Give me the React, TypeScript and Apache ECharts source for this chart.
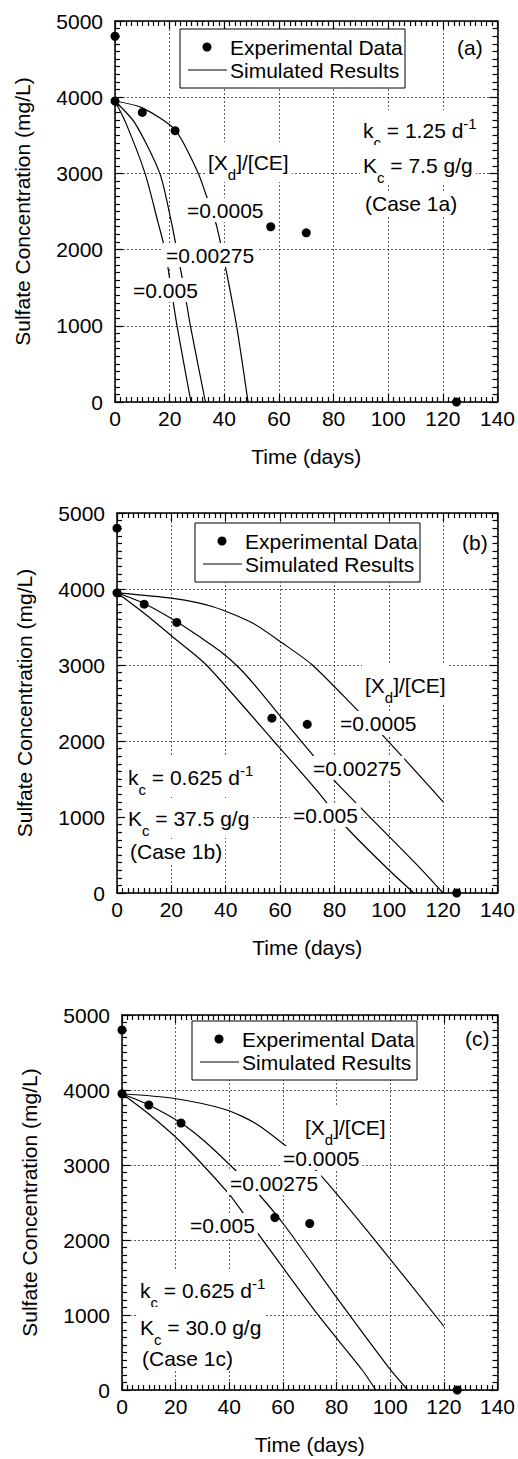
import React, { useEffect, useRef } from "react";
import * as echarts from "echarts";

// ---------------- data ----------------
const expDays = [0, 0, 10, 22, 57, 70, 125];
const expSulfate = [4800, 3950, 3800, 3560, 2300, 2220, 0];

// Case 1a  (kc = 1.25, Kc = 7.5)
const caseA_0005: number[][] = [[0, 3950], [10, 3860], [22, 3570], [30.5, 3000], [33.5, 2700], [36.9, 2350], [40, 1850], [44.5, 1000], [48.7, 0]];
const caseA_00275: number[][] = [[0, 3950], [7.3, 3660], [16.4, 3000], [20.7, 2350], [22.6, 2000], [25, 1550], [27.6, 1000], [33.1, 0]];
const caseA_005: number[][] = [[0, 3950], [4, 3660], [11, 3000], [15.8, 2350], [18.3, 2000], [20.3, 1550], [22.7, 1000], [27.8, 0]];

// Case 1b  (kc = 0.625, Kc = 37.5)
const caseB_0005: number[][] = [[0, 3950], [20.6, 3877], [35.3, 3767], [50, 3549], [61, 3285], [71.9, 3000], [89, 2386], [98.8, 2035], [120, 1200]];
const caseB_00275: number[][] = [[0, 3950], [10, 3810], [22, 3570], [30, 3380], [38, 3180], [45, 2960], [52, 2680], [60, 2330], [72, 1816], [80.5, 1460], [111.6, 325], [120, 0]];
const caseB_005: number[][] = [[0, 3950], [10, 3680], [21.9, 3329], [32.9, 3000], [57.3, 2013], [74.4, 1312], [84.2, 872], [99.4, 325], [109.2, 0]];

// Case 1c  (kc = 0.625, Kc = 30.0)
const caseC_0005: number[][] = [[0, 3950], [19, 3890], [38.5, 3740], [50, 3550], [63, 3200], [73.4, 2888], [93.6, 2028], [120, 850]];
const caseC_00275: number[][] = [[0, 3950], [10, 3800], [22, 3560], [31, 3310], [42, 2940], [50, 2650], [60.5, 2200], [80, 1234], [99.7, 287], [106.5, 0]];
const caseC_005: number[][] = [[0, 3950], [10, 3680], [21.9, 3307], [39.7, 2623], [45.2, 2358], [50.1, 2116], [72.8, 1014], [89.5, 270], [94.6, 0]];

const ratioLabels = ["=0.0005", "=0.00275", "=0.005"];
const panelTags = ["(a)", "(b)", "(c)"];
const kcLabels = ["1.25", "0.625", "0.625"];
const KcLabels = ["7.5", "37.5", "30.0"];
const caseLabels = ["(Case 1a)", "(Case 1b)", "(Case 1c)"];

const xMin = 0, xMax = 140, xStep = 20;
const yMin = 0, yMax = 5000, yStep = 1000;

// ---------------- layout ----------------
const FONT = "'Liberation Sans', Arial, Helvetica, sans-serif";
const grids = [
  { left: 115, top: 21, width: 383, height: 381 },
  { left: 117, top: 513, width: 382, height: 380 },
  { left: 122, top: 1015, width: 381, height: 375 },
];
const legendPos = [
  { x: 180, y: 29 },
  { x: 195, y: 523 },
  { x: 192, y: 1021 },
];
// label positions: [left, centerY]
const ann = [
  {
    tag: [457, 47], xd: [208, 162], r: [[187, 210], [166, 255], [133, 290]],
    kc: [363, 130], Kc: [363, 165], cs: [365, 203],
  },
  {
    tag: [462, 542], xd: [365, 685], r: [[340, 723], [313, 768], [293, 815]],
    kc: [128, 777], Kc: [128, 818], cs: [130, 851],
  },
  {
    tag: [465, 1038], xd: [305, 1127], r: [[283, 1158], [230, 1183], [190, 1225]],
    kc: [140, 1290], Kc: [140, 1327], cs: [142, 1358],
  },
];

const curves = [
  [caseA_0005, caseA_00275, caseA_005],
  [caseB_0005, caseB_00275, caseB_005],
  [caseC_0005, caseC_00275, caseC_005],
];

const rich = {
  sub: { fontSize: 15, lineHeight: 15, verticalAlign: "bottom", fontFamily: FONT, fill: "#000" },
  sup: { fontSize: 15, verticalAlign: "middle", padding: [0, 0, 14, 0], fontFamily: FONT, fill: "#000" },
};

function txt(x: number, y: number, text: string, withRich = false, bg = true) {
  return {
    type: "text",
    x: x - 3,
    y,
    z: 100,
    style: {
      text,
      fill: "#000",
      fontSize: 21,
      fontFamily: FONT,
      align: "left",
      verticalAlign: "middle",
      lineHeight: withRich ? 40 : 24,
      backgroundColor: bg ? "#fff" : undefined,
      padding: [0, 3],
      rich: withRich ? rich : undefined,
    },
  };
}

const mkLine = () => ({ show: true, onZero: false, lineStyle: { color: "#000", width: 1.5 } });
const mkTick = () => ({ show: true, inside: true, length: 8, lineStyle: { color: "#000", width: 1.2 } });
const mkMinor = () => ({ show: true, splitNumber: 10, length: 5, lineStyle: { color: "#000", width: 1.2 } });
const mkSplit = () => ({ show: true, lineStyle: { color: "#333", width: 0.8, type: [2, 2] } });

function buildOption() {
  const xAxis: any[] = [];
  const yAxis: any[] = [];
  const series: any[] = [];
  const graphic: any[] = [];
  const plain = (v: number) => String(v);

  grids.forEach((g, i) => {
    xAxis.push({
      type: "value", gridIndex: i, position: "bottom", min: xMin, max: xMax, interval: xStep,
      name: "Time (days)", nameLocation: "middle", nameGap: 44,
      nameTextStyle: { fontSize: 21, color: "#000", fontFamily: FONT },
      axisLine: mkLine(), axisTick: mkTick(), minorTick: mkMinor(), splitLine: mkSplit(),
      axisLabel: { fontSize: 21, color: "#000", fontFamily: FONT, margin: 6, formatter: plain },
    });
    xAxis.push({
      type: "value", gridIndex: i, position: "top", min: xMin, max: xMax, interval: xStep,
      axisLine: mkLine(), axisTick: mkTick(), minorTick: mkMinor(), splitLine: { show: false }, axisLabel: { show: false },
    });
    yAxis.push({
      type: "value", gridIndex: i, position: "left", min: yMin, max: yMax, interval: yStep,
      name: "Sulfate Concentration (mg/L)", nameLocation: "middle", nameGap: 82,
      nameTextStyle: { fontSize: 21, color: "#000", fontFamily: FONT },
      axisLine: mkLine(), axisTick: mkTick(), minorTick: mkMinor(), splitLine: mkSplit(),
      axisLabel: { fontSize: 21, color: "#000", fontFamily: FONT, margin: 12, formatter: plain },
    });
    yAxis.push({
      type: "value", gridIndex: i, position: "right", min: yMin, max: yMax, interval: yStep,
      axisLine: mkLine(), axisTick: mkTick(), minorTick: mkMinor(), splitLine: { show: false }, axisLabel: { show: false },
    });

    series.push({
      type: "scatter", name: "Experimental Data", xAxisIndex: 2 * i, yAxisIndex: 2 * i,
      data: expDays.map((d, k) => [d, expSulfate[k]]),
      symbol: "circle", symbolSize: 9, itemStyle: { color: "#000", opacity: 1 }, clip: false, z: 5,
    });
    curves[i].forEach((c, k) => {
      series.push({
        type: "line", name: "Simulated Results " + ratioLabels[k], xAxisIndex: 2 * i, yAxisIndex: 2 * i,
        data: c, showSymbol: false, smooth: 0.25,
        lineStyle: { color: "#000", width: 1.2 }, z: 3,
      });
    });

    // legend box
    const L = legendPos[i];
    graphic.push({
      type: "rect", z: 90, shape: { x: L.x, y: L.y, width: 225, height: 59 },
      style: { fill: "#fff", stroke: "#000", lineWidth: 1 },
    });
    graphic.push({ type: "circle", z: 95, shape: { cx: L.x + 27, cy: L.y + 18, r: 4.5 }, style: { fill: "#000" } });
    graphic.push({
      type: "line", z: 95, shape: { x1: L.x + 8, y1: L.y + 41, x2: L.x + 47, y2: L.y + 41 },
      style: { stroke: "#000", lineWidth: 1 },
    });
    graphic.push(txt(L.x + 50, L.y + 18, "Experimental Data", false, false));
    graphic.push(txt(L.x + 50, L.y + 41, "Simulated Results", false, false));

    const A = ann[i];
    graphic.push(txt(A.tag[0], A.tag[1], panelTags[i], false, false));
    graphic.push(txt(A.xd[0], A.xd[1], "[X{sub|d}]/[CE]", true));
    A.r.forEach((p, k) => graphic.push(txt(p[0], p[1], ratioLabels[k])));
    graphic.push(txt(A.kc[0], A.kc[1], "k{sub|c} = " + kcLabels[i] + " d{sup|-1}", true));
    graphic.push(txt(A.Kc[0], A.Kc[1], "K{sub|c} = " + KcLabels[i] + " g/g", true));
    graphic.push(txt(A.cs[0], A.cs[1], caseLabels[i]));
  });

  return {
    animation: false,
    backgroundColor: "#fff",
    grid: grids.map((g) => ({ ...g })),
    xAxis,
    yAxis,
    series,
    graphic,
  };
}

export default function App() {
  const ref = useRef<HTMLDivElement>(null);
  useEffect(() => {
    if (!ref.current) return;
    const chart = echarts.init(ref.current, undefined, { renderer: "svg" });
    chart.setOption(buildOption() as any);
    return () => chart.dispose();
  }, []);
  return (
    <div
      ref={ref}
      style={{ position: "absolute", left: 0, top: 0, width: 518, height: 1459, background: "#fff" }}
    />
  );
}
